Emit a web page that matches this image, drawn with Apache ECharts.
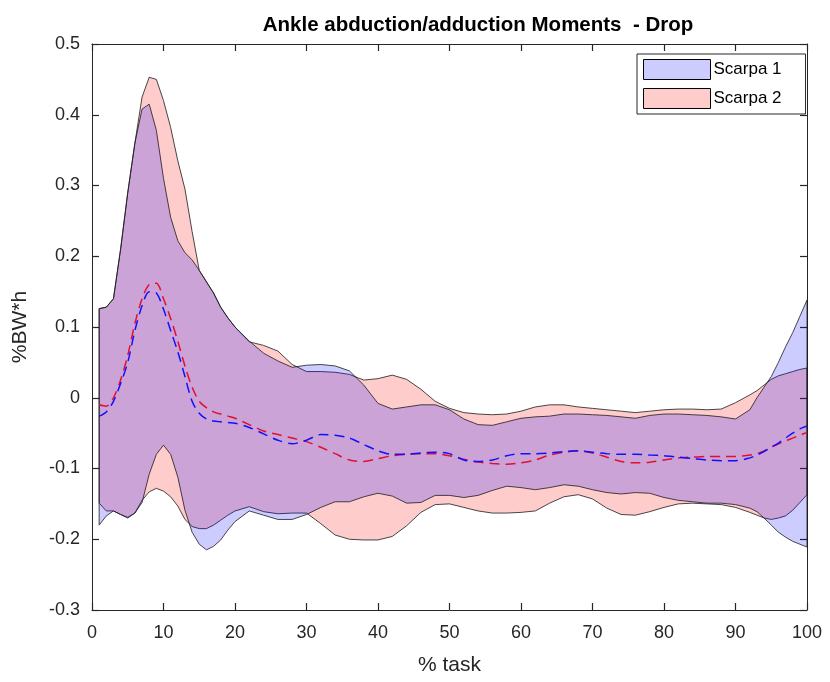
<!DOCTYPE html>
<html>
<head>
<meta charset="utf-8">
<script src="https://cdn.jsdelivr.net/npm/echarts@6/dist/echarts.min.js"></script>
<style>
  html, body { margin: 0; padding: 0; background: #fff; }
  #chart { width: 830px; height: 682px; }
</style>
</head>
<body>
<div id="chart"></div>
<script>
// % of task where each sample was taken
const xs = [1, 2, 3, 4, 5, 6, 7, 8, 9, 10, 11, 12, 13, 14, 15, 16, 17, 18, 19, 20,
  22, 24, 26, 28, 30, 32, 34, 36, 38, 40,
  42, 44, 46, 48, 50, 52, 54, 56, 58, 60,
  62, 64, 66, 68, 70, 72, 74, 76, 78, 80,
  82, 84, 86, 88, 90,
  92, 93, 94, 95, 96, 97, 98, 99, 100];

// Scarpa 1: band limits and mean (%BW*h)
const scarpa1Upper = [0.126, 0.128, 0.14, 0.21, 0.29, 0.36, 0.408, 0.415, 0.378, 0.31, 0.255, 0.222, 0.205, 0.195, 0.180, 0.164, 0.148, 0.128, 0.113, 0.100,
  0.080, 0.063, 0.052, 0.043, 0.046, 0.047, 0.045, 0.038, 0.018, -0.008,
  -0.016, -0.013, -0.010, -0.010, -0.017, -0.030, -0.038, -0.039, -0.034, -0.029,
  -0.027, -0.026, -0.023, -0.023, -0.024, -0.025, -0.027, -0.029, -0.025, -0.023,
  -0.023, -0.024, -0.025, -0.027, -0.030,
  -0.017, 0.000, 0.015, 0.030, 0.050, 0.072, 0.092, 0.115, 0.138];
const scarpa1Lower = [-0.180, -0.167, -0.160, -0.165, -0.170, -0.163, -0.148, -0.108, -0.080, -0.067, -0.080, -0.112, -0.159, -0.190, -0.207, -0.215, -0.210, -0.201, -0.187, -0.175,
  -0.160, -0.166, -0.172, -0.172, -0.165, -0.155, -0.147, -0.147, -0.140, -0.135,
  -0.139, -0.149, -0.148, -0.138, -0.138, -0.141, -0.138, -0.131, -0.125, -0.127,
  -0.130, -0.127, -0.123, -0.125, -0.130, -0.134, -0.136, -0.134, -0.135, -0.141,
  -0.145, -0.147, -0.149, -0.149, -0.151,
  -0.156, -0.161, -0.170, -0.180, -0.190, -0.197, -0.203, -0.207, -0.211];
const scarpa1Mean = [-0.026, -0.020, -0.005, 0.020, 0.050, 0.095, 0.130, 0.150, 0.148, 0.125, 0.095, 0.065, 0.030, -0.005, -0.022, -0.030, -0.033, -0.034, -0.035, -0.036,
  -0.042, -0.051, -0.060, -0.065, -0.060, -0.052, -0.053, -0.057, -0.066, -0.075,
  -0.080, -0.080, -0.078, -0.077, -0.079, -0.088, -0.090, -0.088, -0.082, -0.079,
  -0.079, -0.078, -0.076, -0.075, -0.077, -0.079, -0.080, -0.080, -0.081, -0.082,
  -0.084, -0.086, -0.088, -0.089, -0.089,
  -0.085, -0.081, -0.076, -0.070, -0.064, -0.057, -0.050, -0.044, -0.040];

// Scarpa 2: band limits and mean (%BW*h)
const scarpa2Upper = [0.126, 0.128, 0.14, 0.21, 0.29, 0.36, 0.425, 0.453, 0.450, 0.420, 0.382, 0.335, 0.295, 0.235, 0.180, 0.164, 0.148, 0.128, 0.113, 0.100,
  0.079, 0.074, 0.066, 0.047, 0.037, 0.037, 0.036, 0.033, 0.025, 0.027,
  0.032, 0.026, 0.012, -0.005, -0.015, -0.021, -0.023, -0.024, -0.023, -0.019,
  -0.013, -0.010, -0.010, -0.013, -0.015, -0.017, -0.019, -0.021, -0.019, -0.017,
  -0.016, -0.016, -0.017, -0.016, -0.007,
  0.004, 0.010, 0.018, 0.026, 0.031, 0.034, 0.037, 0.040, 0.042];
const scarpa2Lower = [-0.149, -0.160, -0.160, -0.165, -0.169, -0.163, -0.145, -0.133, -0.128, -0.132, -0.140, -0.153, -0.172, -0.182, -0.185, -0.185, -0.180, -0.173, -0.166, -0.160,
  -0.154, -0.161, -0.164, -0.163, -0.163, -0.178, -0.194, -0.200, -0.201, -0.201,
  -0.196, -0.181, -0.162, -0.151, -0.150, -0.155, -0.160, -0.163, -0.163, -0.162,
  -0.160, -0.149, -0.140, -0.137, -0.143, -0.156, -0.165, -0.166, -0.161, -0.155,
  -0.150, -0.149, -0.150, -0.151, -0.155,
  -0.162, -0.166, -0.170, -0.172, -0.170, -0.167, -0.159, -0.148, -0.137];
const scarpa2Mean = [-0.010, -0.012, 0.000, 0.025, 0.060, 0.105, 0.140, 0.160, 0.162, 0.140, 0.112, 0.080, 0.045, 0.015, -0.005, -0.014, -0.020, -0.023, -0.026, -0.029,
  -0.038, -0.047, -0.052, -0.057, -0.062, -0.070, -0.079, -0.088, -0.090, -0.086,
  -0.082, -0.080, -0.079, -0.079, -0.082, -0.087, -0.091, -0.093, -0.094, -0.092,
  -0.088, -0.081, -0.077, -0.075, -0.078, -0.084, -0.090, -0.092, -0.091, -0.088,
  -0.085, -0.084, -0.083, -0.083, -0.083,
  -0.081, -0.079, -0.075, -0.070, -0.065, -0.061, -0.057, -0.053, -0.049];

// Axis ticks
const xTicks = { min: 0, max: 100, step: 10 };
const yTicks = { min: -0.3, max: 0.5, step: 0.1 };

const FONT = "'Liberation Sans', Arial, sans-serif";
const AXIS_COLOR = '#262626';
const BLUE_FILL = 'rgba(0, 0, 255, 0.2)';
const RED_FILL = 'rgba(255, 0, 0, 0.2)';

// Shaded band: one closed polygon, upper limit left to right then lower limit back
function bandSeries(name, upper, lower, fill, z) {
  return {
    type: 'custom',
    name: name,
    coordinateSystem: 'cartesian2d',
    xAxisIndex: 0,
    yAxisIndex: 0,
    z: z,
    silent: true,
    itemStyle: { color: fill },
    data: [[xs[0], upper[0]]],
    renderItem: function (params, api) {
      const top = xs.map((x, i) => api.coord([x, upper[i]]));
      const bottom = xs.map((x, i) => api.coord([x, lower[i]])).reverse();
      return {
        type: 'group',
        children: [
          {
            type: 'polygon',
            shape: { points: top.concat(bottom) },
            style: { fill: fill, stroke: 'none' }
          },
          {
            type: 'polyline',
            shape: { points: top.concat(bottom, [top[0]]) },
            style: { fill: null, stroke: '#1a1a1a', lineWidth: 0.8 }
          }
        ]
      };
    }
  };
}

function meanSeries(name, values, color, z) {
  return {
    type: 'line',
    name: name,
    z: z,
    showSymbol: false,
    symbol: 'none',
    smooth: 0.3,
    silent: true,
    data: xs.map((x, i) => [x, values[i]]),
    lineStyle: { color: color, width: 1.5, type: [10, 6] }
  };
}

// Box axes: ticks on all four sides, pointing inward
function axisLine() {
  return { show: true, onZero: false, lineStyle: { color: AXIS_COLOR, width: 1 } };
}
function axisTick() {
  return { show: true, inside: true, length: 7, lineStyle: { color: AXIS_COLOR, width: 1.2 } };
}
function labelStyle(extra) {
  return Object.assign({ color: AXIS_COLOR, fontFamily: FONT, fontSize: 18 }, extra);
}

const chart = echarts.init(document.getElementById('chart'), null, { renderer: 'canvas' });

chart.setOption({
  backgroundColor: '#ffffff',
  animation: false,
  title: {
    text: 'Ankle abduction/adduction Moments  - Drop',
    left: 473,
    textAlign: 'center',
    top: 10,
    textStyle: { fontFamily: FONT, fontSize: 20.5, fontWeight: 'bold', color: '#000' }
  },
  legend: {
    orient: 'vertical',
    left: 637,
    top: 54,
    padding: [5, 24, 5, 6],
    itemGap: 8,
    itemWidth: 67,
    itemHeight: 20,
    icon: 'rect',
    backgroundColor: '#ffffff',
    borderColor: AXIS_COLOR,
    borderWidth: 1,
    borderRadius: 0,
    textStyle: { color: '#000', fontFamily: FONT, fontSize: 17, padding: [0, 0, 0, -2] },
    data: [
      { name: 'Scarpa 1', itemStyle: { color: BLUE_FILL, borderColor: '#000', borderWidth: 1 } },
      { name: 'Scarpa 2', itemStyle: { color: RED_FILL, borderColor: '#000', borderWidth: 1 } }
    ]
  },
  grid: { left: 92, right: 23, top: 44, bottom: 72 },
  xAxis: [
    {
      type: 'value',
      min: xTicks.min, max: xTicks.max, interval: xTicks.step,
      name: '% task',
      nameLocation: 'middle',
      nameGap: 45,
      nameTextStyle: { color: AXIS_COLOR, fontFamily: FONT, fontSize: 21 },
      axisLine: axisLine(),
      axisTick: axisTick(),
      axisLabel: labelStyle({ margin: 14 }),
      splitLine: { show: false }
    },
    {
      type: 'value',
      position: 'top',
      min: xTicks.min, max: xTicks.max, interval: xTicks.step,
      axisLine: axisLine(),
      axisTick: axisTick(),
      axisLabel: { show: false },
      splitLine: { show: false }
    }
  ],
  yAxis: [
    {
      type: 'value',
      min: yTicks.min, max: yTicks.max, interval: yTicks.step,
      name: '%BW*h',
      nameLocation: 'middle',
      nameGap: 61,
      nameRotate: 90,
      nameTextStyle: { color: AXIS_COLOR, fontFamily: FONT, fontSize: 21 },
      axisLine: axisLine(),
      axisTick: axisTick(),
      axisLabel: labelStyle({
        margin: 12,
        formatter: v => String(Math.round(v * 10) / 10)
      }),
      splitLine: { show: false }
    },
    {
      type: 'value',
      position: 'right',
      min: yTicks.min, max: yTicks.max, interval: yTicks.step,
      axisLine: axisLine(),
      axisTick: axisTick(),
      axisLabel: { show: false },
      splitLine: { show: false }
    }
  ],
  series: [
    bandSeries('Scarpa 2', scarpa2Upper, scarpa2Lower, RED_FILL, 1),
    bandSeries('Scarpa 1', scarpa1Upper, scarpa1Lower, BLUE_FILL, 2),
    meanSeries('Scarpa 2 mean', scarpa2Mean, '#e01030', 3),
    meanSeries('Scarpa 1 mean', scarpa1Mean, '#1010ff', 4)
  ]
});
</script>
</body>
</html>
